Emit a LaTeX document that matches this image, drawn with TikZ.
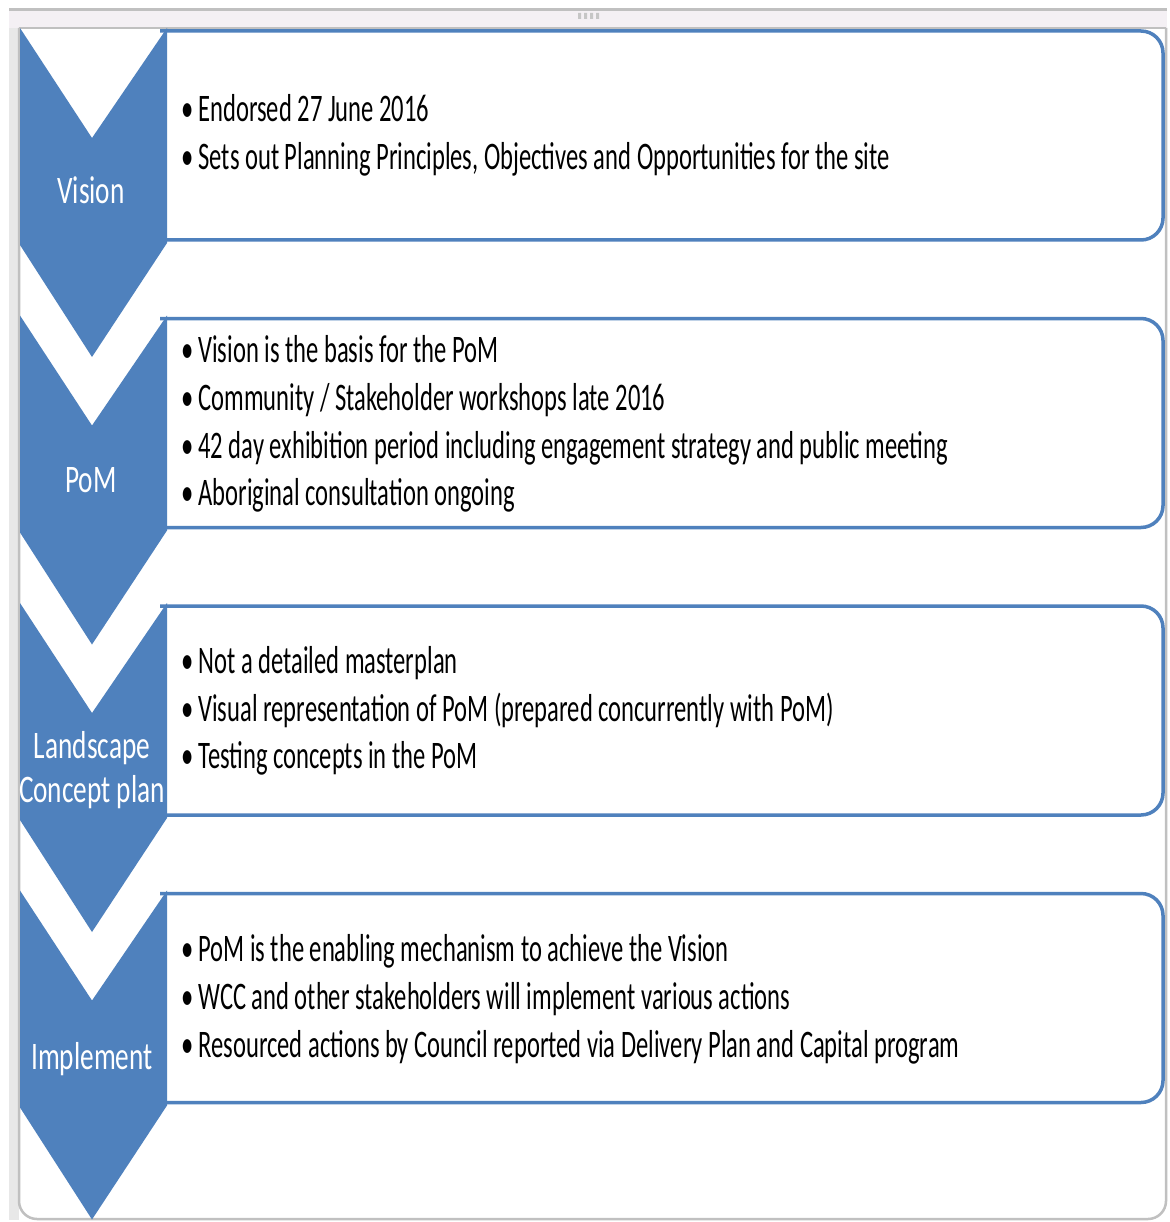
\documentclass[tikz,border=0pt]{standalone}
\usepackage{fontspec}
\setmainfont{Carlito}
\newfontfamily\bodyfont[FakeStretch=0.63]{Carlito}
\newfontfamily\stagefont[FakeStretch=0.7]{Carlito}
\usepackage{xcolor}
\usepackage{tikz}
\usetikzlibrary{positioning}

\definecolor{chevblue}{RGB}{79,129,189}
\definecolor{framegray}{RGB}{192,192,192}
\definecolor{stripgray}{RGB}{244,240,244}
\definecolor{bandgray}{RGB}{232,232,232}

\tikzset{
    chevron/.style={fill=chevblue},
    infobox/.style={draw=chevblue, line width=3.5pt, fill=white, rounded corners=22pt},
    item/.style={anchor=base west, inner sep=0pt, font=\bodyfont\fontsize{39}{47}\selectfont},
    stage/.style={anchor=base, inner sep=0pt, text=white, font=\stagefont\fontsize{39}{47}\selectfont}
}

\begin{document}
\begin{tikzpicture}[x=1pt, y=-1pt]
    \useasboundingbox (0,0) rectangle (1169,1222);
    \fill[white] (0,0) rectangle (1169,1222);

    % Window frame
    \fill[bandgray] (9,9) rectangle (19,1220);
    \fill[stripgray] (9,9) rectangle (1167,28);
    \draw[framegray, line width=2.5pt] (9,9.5) -- (1167,9.5);
    \draw[framegray, line width=1.5pt] (19,28) -- (1166,28);
    \draw[framegray, line width=2.5pt, rounded corners=18pt] (19,28) -- (19,1219) -- (1166,1219) -- (1166,28);
    \fill[gray!45] (578,13) rectangle (581,19) (584,13) rectangle (587,19) (590,13) rectangle (593,19) (596,13) rectangle (599,19);

    % Text boxes (left side hidden behind the chevrons)
    \draw[infobox] (160,31) -- (1163,31) -- (1163,240) -- (160,240);
    \draw[infobox] (160,318.5) -- (1163,318.5) -- (1163,527.5) -- (160,527.5);
    \draw[infobox] (160,606) -- (1163,606) -- (1163,815) -- (160,815);
    \draw[infobox] (160,893.5) -- (1163,893.5) -- (1163,1102.5) -- (160,1102.5);

    % Chevrons
    \fill[chevron] (20,28) -- (92,138) -- (167,28) -- (167,243) -- (92,357) -- (20,245) -- cycle;
    \fill[chevron] (20,315.5) -- (92,425.5) -- (167,315.5) -- (167,530.5) -- (92,644.5) -- (20,532.5) -- cycle;
    \fill[chevron] (20,603) -- (92,713) -- (167,603) -- (167,818) -- (92,932) -- (20,820) -- cycle;
    \fill[chevron] (20,890.5) -- (92,1000.5) -- (167,890.5) -- (167,1105.5) -- (92,1219.5) -- (20,1107.5) -- cycle;

    % Stage labels
    \node[stage] (vision) at (91,204) {Vision};
    \node[stage] (pom) at (91,492) {PoM};
    \node[stage] (landscape) at (92,758) {Landscape};
    \node[stage] (concept) at (92,802) {Concept plan};
    \node[stage] (implement) at (92,1069) {Implement};

    % Vision points
    \node[item] (vis1) at (181,122) {\textbullet\hspace{5pt}Endorsed 27 June 2016};
    \node[item] (vis2) at (181,169.5) {\textbullet\hspace{5pt}Sets out Planning Principles, Objectives and Opportunities for the site};

    % PoM points
    \node[item] (pom1) at (181,362) {\textbullet\hspace{5pt}Vision is the basis for the PoM};
    \node[item] (pom2) at (181,410) {\textbullet\hspace{5pt}Community / Stakeholder workshops late 2016};
    \node[item] (pom3) at (181,458) {\textbullet\hspace{5pt}42 day exhibition period including engagement strategy and public meeting};
    \node[item] (pom4) at (181,505) {\textbullet\hspace{5pt}Aboriginal consultation ongoing};

    % Landscape concept plan points
    \node[item] (lcp1) at (181,673) {\textbullet\hspace{5pt}Not a detailed masterplan};
    \node[item] (lcp2) at (181,721) {\textbullet\hspace{5pt}Visual representation of PoM (prepared concurrently with PoM)};
    \node[item] (lcp3) at (181,768) {\textbullet\hspace{5pt}Testing concepts in the PoM};

    % Implement points
    \node[item] (imp1) at (181,961) {\textbullet\hspace{5pt}PoM is the enabling mechanism to achieve the Vision};
    \node[item] (imp2) at (181,1009) {\textbullet\hspace{5pt}WCC and other stakeholders will implement various actions};
    \node[item] (imp3) at (181,1057) {\textbullet\hspace{5pt}Resourced actions by Council reported via Delivery Plan and Capital program};
\end{tikzpicture}
\end{document}
